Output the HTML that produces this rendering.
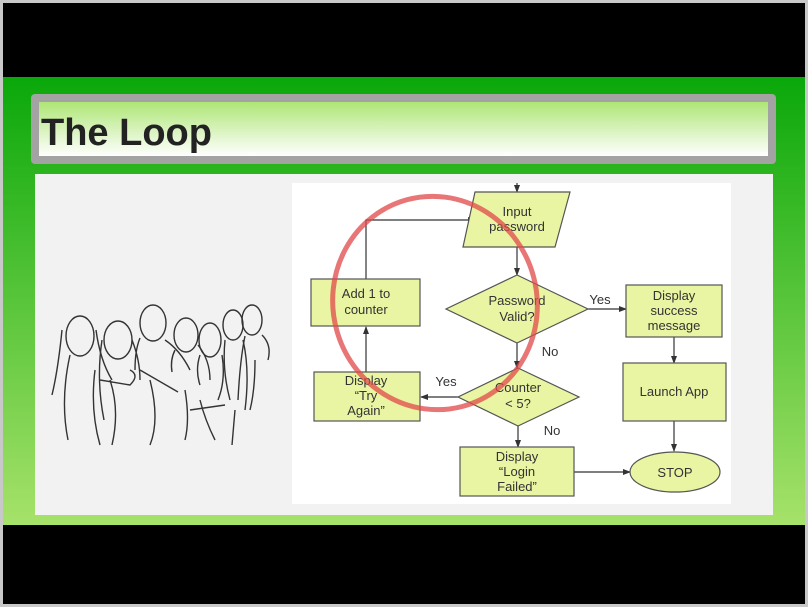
<!DOCTYPE html>
<html><head><meta charset="utf-8"><style>
html,body{margin:0;padding:0;width:808px;height:607px;overflow:hidden;background:#c8c8c8;}
</style></head><body>
<svg width="808" height="607" viewBox="0 0 808 607" xmlns="http://www.w3.org/2000/svg" style="position:absolute;left:0;top:0">
<defs>
<linearGradient id="g" x1="0" y1="0" x2="0" y2="1">
<stop offset="0" stop-color="#0aa80a"/><stop offset="1" stop-color="#a6e26a"/></linearGradient>
<linearGradient id="t" x1="0" y1="0" x2="0" y2="1">
<stop offset="0" stop-color="#aee676"/><stop offset="1" stop-color="#ffffff"/></linearGradient>
<marker id="a" markerWidth="8" markerHeight="8" refX="7" refY="4" orient="auto" markerUnits="userSpaceOnUse"><path d="M0,1 L8,4 L0,7z" fill="#333"/></marker>
</defs>
<rect x="3" y="3" width="802" height="74" fill="#000"/>
<rect x="3" y="77" width="802" height="448" fill="url(#g)"/>
<rect x="3" y="525" width="802" height="79" fill="#000"/>
<rect x="31" y="94" width="745" height="70" rx="4" fill="#a3a3a3"/>
<rect x="39" y="102" width="729" height="54" fill="url(#t)"/>
<text x="41" y="145" font-family="Liberation Sans, DejaVu Sans, sans-serif" font-weight="bold" font-size="38" fill="#222">The Loop</text>
<rect x="35" y="174" width="738" height="341" fill="#f2f2f2"/>
<rect x="292" y="183" width="439" height="321" fill="#fff"/>
<g fill="none" stroke="#333" stroke-width="1.4">
<ellipse cx="80" cy="336" rx="14" ry="20"/><path d="M62,330 Q58,370 52,395 M96,330 Q100,360 112,380 M70,355 Q60,400 68,440 M95,370 Q90,410 100,445"/>
<ellipse cx="118" cy="340" rx="14" ry="19"/><path d="M102,340 Q96,380 104,420 M132,340 Q140,360 140,380 M110,380 Q120,410 112,445 M100,380 L130,385 Q140,375 130,370"/>
<ellipse cx="153" cy="323" rx="13" ry="18"/><path d="M140,338 Q135,350 135,370 M165,340 Q180,350 190,370 M140,370 L178,392 M150,380 Q160,420 150,445 M185,390 Q190,420 185,440"/>
<ellipse cx="186" cy="335" rx="12" ry="17"/><path d="M175,350 Q170,360 172,372 M198,345 Q210,360 210,380"/>
<ellipse cx="210" cy="340" rx="11" ry="17"/><path d="M200,355 Q195,370 200,385 M222,355 Q226,380 218,400 M200,400 Q205,420 215,440 M190,410 L225,405"/>
<ellipse cx="233" cy="325" rx="10" ry="15"/><path d="M225,340 Q222,370 230,400 M243,340 Q250,370 245,410 M235,410 L232,445"/>
<ellipse cx="252" cy="320" rx="10" ry="15"/><path d="M245,336 Q240,360 238,400 M262,335 Q272,345 268,360 M255,360 Q255,390 250,410"/>
</g>
<g stroke="#333" stroke-width="1.2" fill="none">
<line x1="517" y1="183" x2="517" y2="192" marker-end="url(#a)"/>
<line x1="517" y1="247" x2="517" y2="275" marker-end="url(#a)"/>
<line x1="588" y1="309" x2="626" y2="309" marker-end="url(#a)"/>
<line x1="674" y1="337" x2="674" y2="363" marker-end="url(#a)"/>
<line x1="674" y1="421" x2="674" y2="451" marker-end="url(#a)"/>
<line x1="517" y1="343" x2="517" y2="368" marker-end="url(#a)"/>
<line x1="458" y1="397" x2="421" y2="397" marker-end="url(#a)"/>
<line x1="366" y1="372" x2="366" y2="327" marker-end="url(#a)"/>
<polyline points="366,279 366,220 475,220" marker-end="url(#a)"/>
<line x1="518" y1="426" x2="518" y2="447" marker-end="url(#a)"/>
<line x1="574" y1="472" x2="630" y2="472" marker-end="url(#a)"/>
</g>
<g fill="#e9f5a3" stroke="#555" stroke-width="1.2">
<polygon points="475,192 570,192 555,247 463,247"/>
<polygon points="517,275 588,309 517,343 446,309"/>
<rect x="626" y="285" width="96" height="52"/>
<rect x="623" y="363" width="103" height="58"/>
<ellipse cx="675" cy="472" rx="45" ry="20"/>
<polygon points="518,368 579,397 518,426 458,397"/>
<rect x="314" y="372" width="106" height="49"/>
<rect x="311" y="279" width="109" height="47"/>
<rect x="460" y="447" width="114" height="49"/>
</g>
<g font-family="Liberation Sans, DejaVu Sans, sans-serif" font-size="13" fill="#333" text-anchor="middle">
<text x="517" y="216">Input</text><text x="517" y="231">password</text>
<text x="517" y="305">Password</text><text x="517" y="321">Valid?</text>
<text x="674" y="300">Display</text><text x="674" y="315">success</text><text x="674" y="330">message</text>
<text x="674" y="396">Launch App</text>
<text x="675" y="477">STOP</text>
<text x="518" y="392">Counter</text><text x="518" y="408">&lt; 5?</text>
<text x="366" y="385">Display</text><text x="366" y="400">“Try</text><text x="366" y="415">Again”</text>
<text x="366" y="298">Add 1 to</text><text x="366" y="314">counter</text>
<text x="517" y="461">Display</text><text x="517" y="476">“Login</text><text x="517" y="491">Failed”</text>
<text x="600" y="304">Yes</text><text x="550" y="356">No</text>
<text x="446" y="386">Yes</text><text x="552" y="435">No</text>
</g>
<ellipse cx="435" cy="303" rx="102" ry="107" transform="rotate(-15 435 303)" fill="none" stroke="#e04848" stroke-opacity="0.75" stroke-width="5"/>
</svg>
</body></html>
